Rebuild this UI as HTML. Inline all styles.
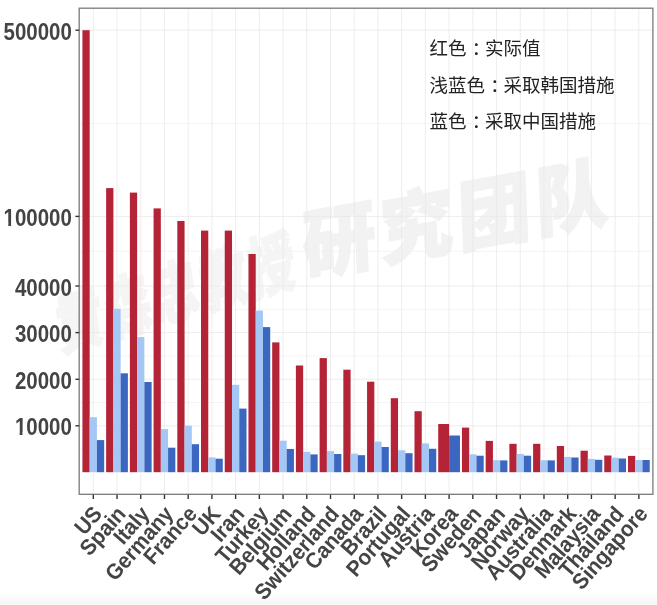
<!DOCTYPE html>
<html lang="zh"><head><meta charset="utf-8"><title>chart</title>
<style>html,body{margin:0;padding:0;background:#fff;}body{width:657px;height:605px;position:relative;overflow:hidden;}</style></head>
<body>
<svg width="657" height="605" viewBox="0 0 657 605" style="position:absolute;left:0;top:0">
<defs><linearGradient id="bg" x1="0" y1="0" x2="0" y2="1"><stop offset="0" stop-color="#ffffff"/><stop offset="1" stop-color="#f6f6f6"/></linearGradient></defs>
<rect x="0" y="0" width="657" height="605" fill="#ffffff"/>
<rect x="0" y="591" width="657" height="14" fill="url(#bg)"/>
<g transform="translate(304.0,277.1) rotate(-10.4) skewX(-8) scale(0.97,1)"><text x="0" y="-2" font-family="'Liberation Sans','Noto Sans CJK SC',sans-serif" font-weight="900" font-size="76" fill="#f2f2f2" stroke="#f2f2f2" stroke-width="2" letter-spacing="5.4">研究团队</text></g>
<g transform="translate(60,351) rotate(-16) skewX(-8) scale(0.72,1)"><text x="0" y="0" font-family="'Liberation Sans','Noto Sans CJK SC',sans-serif" font-weight="900" font-size="66" fill="#f5f5f5" stroke="#f5f5f5" stroke-width="2" letter-spacing="3.4">黄森忠教授</text></g>
<line x1="79.2" x2="652.9" y1="123.6" y2="123.6" stroke="#f1f1f1" stroke-width="0.8"/>
<line x1="79.2" x2="652.9" y1="251.2" y2="251.2" stroke="#f1f1f1" stroke-width="0.8"/>
<line x1="79.2" x2="652.9" y1="309.3" y2="309.3" stroke="#f1f1f1" stroke-width="0.8"/>
<line x1="79.2" x2="652.9" y1="356.0" y2="356.0" stroke="#f1f1f1" stroke-width="0.8"/>
<line x1="79.2" x2="652.9" y1="402.5" y2="402.5" stroke="#f1f1f1" stroke-width="0.8"/>
<line x1="79.2" x2="652.9" y1="449.0" y2="449.0" stroke="#f1f1f1" stroke-width="0.8"/>
<line x1="79.2" x2="652.9" y1="30.2" y2="30.2" stroke="#e8e8e8" stroke-width="0.8"/>
<line x1="79.2" x2="652.9" y1="216.4" y2="216.4" stroke="#e8e8e8" stroke-width="0.8"/>
<line x1="79.2" x2="652.9" y1="286.0" y2="286.0" stroke="#e8e8e8" stroke-width="0.8"/>
<line x1="79.2" x2="652.9" y1="332.6" y2="332.6" stroke="#e8e8e8" stroke-width="0.8"/>
<line x1="79.2" x2="652.9" y1="379.3" y2="379.3" stroke="#e8e8e8" stroke-width="0.8"/>
<line x1="79.2" x2="652.9" y1="425.8" y2="425.8" stroke="#e8e8e8" stroke-width="0.8"/>
<line x1="93.30" x2="93.30" y1="8.2" y2="494.3" stroke="#e8e8e8" stroke-width="0.8"/>
<line x1="117.02" x2="117.02" y1="8.2" y2="494.3" stroke="#e8e8e8" stroke-width="0.8"/>
<line x1="140.74" x2="140.74" y1="8.2" y2="494.3" stroke="#e8e8e8" stroke-width="0.8"/>
<line x1="164.46" x2="164.46" y1="8.2" y2="494.3" stroke="#e8e8e8" stroke-width="0.8"/>
<line x1="188.18" x2="188.18" y1="8.2" y2="494.3" stroke="#e8e8e8" stroke-width="0.8"/>
<line x1="211.90" x2="211.90" y1="8.2" y2="494.3" stroke="#e8e8e8" stroke-width="0.8"/>
<line x1="235.62" x2="235.62" y1="8.2" y2="494.3" stroke="#e8e8e8" stroke-width="0.8"/>
<line x1="259.34" x2="259.34" y1="8.2" y2="494.3" stroke="#e8e8e8" stroke-width="0.8"/>
<line x1="283.06" x2="283.06" y1="8.2" y2="494.3" stroke="#e8e8e8" stroke-width="0.8"/>
<line x1="306.78" x2="306.78" y1="8.2" y2="494.3" stroke="#e8e8e8" stroke-width="0.8"/>
<line x1="330.50" x2="330.50" y1="8.2" y2="494.3" stroke="#e8e8e8" stroke-width="0.8"/>
<line x1="354.22" x2="354.22" y1="8.2" y2="494.3" stroke="#e8e8e8" stroke-width="0.8"/>
<line x1="377.94" x2="377.94" y1="8.2" y2="494.3" stroke="#e8e8e8" stroke-width="0.8"/>
<line x1="401.66" x2="401.66" y1="8.2" y2="494.3" stroke="#e8e8e8" stroke-width="0.8"/>
<line x1="425.38" x2="425.38" y1="8.2" y2="494.3" stroke="#e8e8e8" stroke-width="0.8"/>
<line x1="449.10" x2="449.10" y1="8.2" y2="494.3" stroke="#e8e8e8" stroke-width="0.8"/>
<line x1="472.82" x2="472.82" y1="8.2" y2="494.3" stroke="#e8e8e8" stroke-width="0.8"/>
<line x1="496.54" x2="496.54" y1="8.2" y2="494.3" stroke="#e8e8e8" stroke-width="0.8"/>
<line x1="520.26" x2="520.26" y1="8.2" y2="494.3" stroke="#e8e8e8" stroke-width="0.8"/>
<line x1="543.98" x2="543.98" y1="8.2" y2="494.3" stroke="#e8e8e8" stroke-width="0.8"/>
<line x1="567.70" x2="567.70" y1="8.2" y2="494.3" stroke="#e8e8e8" stroke-width="0.8"/>
<line x1="591.42" x2="591.42" y1="8.2" y2="494.3" stroke="#e8e8e8" stroke-width="0.8"/>
<line x1="615.14" x2="615.14" y1="8.2" y2="494.3" stroke="#e8e8e8" stroke-width="0.8"/>
<line x1="638.86" x2="638.86" y1="8.2" y2="494.3" stroke="#e8e8e8" stroke-width="0.8"/>
<rect x="82.42" y="30.2" width="7.25" height="442.00" fill="#b42336"/>
<rect x="89.67" y="417.2" width="7.25" height="55.00" fill="#a4c7f6"/>
<rect x="96.92" y="440.1" width="7.25" height="32.10" fill="#3b67c0"/>
<rect x="106.14" y="188.1" width="7.25" height="284.10" fill="#b42336"/>
<rect x="113.39" y="308.8" width="7.25" height="163.40" fill="#a4c7f6"/>
<rect x="120.64" y="373.3" width="7.25" height="98.90" fill="#3b67c0"/>
<rect x="129.87" y="192.6" width="7.25" height="279.60" fill="#b42336"/>
<rect x="137.12" y="337.1" width="7.25" height="135.10" fill="#a4c7f6"/>
<rect x="144.37" y="382.0" width="7.25" height="90.20" fill="#3b67c0"/>
<rect x="153.58" y="208.4" width="7.25" height="263.80" fill="#b42336"/>
<rect x="160.83" y="429.1" width="7.25" height="43.10" fill="#a4c7f6"/>
<rect x="168.08" y="447.7" width="7.25" height="24.50" fill="#3b67c0"/>
<rect x="177.31" y="221.0" width="7.25" height="251.20" fill="#b42336"/>
<rect x="184.56" y="425.7" width="7.25" height="46.50" fill="#a4c7f6"/>
<rect x="191.81" y="444.2" width="7.25" height="28.00" fill="#3b67c0"/>
<rect x="201.02" y="230.6" width="7.25" height="241.60" fill="#b42336"/>
<rect x="208.27" y="457.4" width="7.25" height="14.80" fill="#a4c7f6"/>
<rect x="215.52" y="458.7" width="7.25" height="13.50" fill="#3b67c0"/>
<rect x="224.75" y="230.6" width="7.25" height="241.60" fill="#b42336"/>
<rect x="232.00" y="384.8" width="7.25" height="87.40" fill="#a4c7f6"/>
<rect x="239.25" y="408.6" width="7.25" height="63.60" fill="#3b67c0"/>
<rect x="248.46" y="254.0" width="7.25" height="218.20" fill="#b42336"/>
<rect x="255.71" y="310.6" width="7.25" height="161.60" fill="#a4c7f6"/>
<rect x="262.96" y="327.1" width="7.25" height="145.10" fill="#3b67c0"/>
<rect x="272.19" y="342.4" width="7.25" height="129.80" fill="#b42336"/>
<rect x="279.44" y="440.7" width="7.25" height="31.50" fill="#a4c7f6"/>
<rect x="286.69" y="449.0" width="7.25" height="23.20" fill="#3b67c0"/>
<rect x="295.90" y="365.5" width="7.25" height="106.70" fill="#b42336"/>
<rect x="303.15" y="451.9" width="7.25" height="20.30" fill="#a4c7f6"/>
<rect x="310.40" y="454.4" width="7.25" height="17.80" fill="#3b67c0"/>
<rect x="319.62" y="358.1" width="7.25" height="114.10" fill="#b42336"/>
<rect x="326.88" y="451.1" width="7.25" height="21.10" fill="#a4c7f6"/>
<rect x="334.12" y="454.0" width="7.25" height="18.20" fill="#3b67c0"/>
<rect x="343.34" y="369.7" width="7.25" height="102.50" fill="#b42336"/>
<rect x="350.59" y="453.6" width="7.25" height="18.60" fill="#a4c7f6"/>
<rect x="357.84" y="455.2" width="7.25" height="17.00" fill="#3b67c0"/>
<rect x="367.06" y="381.7" width="7.25" height="90.50" fill="#b42336"/>
<rect x="374.31" y="441.6" width="7.25" height="30.60" fill="#a4c7f6"/>
<rect x="381.56" y="447.0" width="7.25" height="25.20" fill="#3b67c0"/>
<rect x="390.79" y="398.2" width="7.25" height="74.00" fill="#b42336"/>
<rect x="398.04" y="450.3" width="7.25" height="21.90" fill="#a4c7f6"/>
<rect x="405.29" y="453.2" width="7.25" height="19.00" fill="#3b67c0"/>
<rect x="414.50" y="411.2" width="7.25" height="61.00" fill="#b42336"/>
<rect x="421.75" y="443.4" width="7.25" height="28.80" fill="#a4c7f6"/>
<rect x="429.00" y="448.8" width="7.25" height="23.40" fill="#3b67c0"/>
<rect x="438.22" y="424.0" width="10.88" height="48.20" fill="#b42336"/>
<rect x="449.10" y="435.5" width="10.88" height="36.70" fill="#3b67c0"/>
<rect x="461.94" y="427.6" width="7.25" height="44.60" fill="#b42336"/>
<rect x="469.19" y="454.3" width="7.25" height="17.90" fill="#a4c7f6"/>
<rect x="476.44" y="455.7" width="7.25" height="16.50" fill="#3b67c0"/>
<rect x="485.67" y="440.9" width="7.25" height="31.30" fill="#b42336"/>
<rect x="492.92" y="460.2" width="7.25" height="12.00" fill="#a4c7f6"/>
<rect x="500.17" y="460.4" width="7.25" height="11.80" fill="#3b67c0"/>
<rect x="509.38" y="443.8" width="7.25" height="28.40" fill="#b42336"/>
<rect x="516.63" y="453.9" width="7.25" height="18.30" fill="#a4c7f6"/>
<rect x="523.88" y="455.7" width="7.25" height="16.50" fill="#3b67c0"/>
<rect x="533.10" y="443.8" width="7.25" height="28.40" fill="#b42336"/>
<rect x="540.35" y="460.2" width="7.25" height="12.00" fill="#a4c7f6"/>
<rect x="547.60" y="460.4" width="7.25" height="11.80" fill="#3b67c0"/>
<rect x="556.82" y="446.0" width="7.25" height="26.20" fill="#b42336"/>
<rect x="564.07" y="456.9" width="7.25" height="15.30" fill="#a4c7f6"/>
<rect x="571.32" y="457.5" width="7.25" height="14.70" fill="#3b67c0"/>
<rect x="580.54" y="450.7" width="7.25" height="21.50" fill="#b42336"/>
<rect x="587.79" y="458.9" width="7.25" height="13.30" fill="#a4c7f6"/>
<rect x="595.04" y="459.8" width="7.25" height="12.40" fill="#3b67c0"/>
<rect x="604.26" y="455.5" width="7.25" height="16.70" fill="#b42336"/>
<rect x="611.51" y="457.7" width="7.25" height="14.50" fill="#a4c7f6"/>
<rect x="618.76" y="458.5" width="7.25" height="13.70" fill="#3b67c0"/>
<rect x="627.98" y="455.9" width="7.25" height="16.30" fill="#b42336"/>
<rect x="635.23" y="460.0" width="7.25" height="12.20" fill="#a4c7f6"/>
<rect x="642.48" y="460.0" width="7.25" height="12.20" fill="#3b67c0"/>
<rect x="79.2" y="8.2" width="573.70" height="486.10" fill="none" stroke="#7a7a7a" stroke-width="1.3"/>
<line x1="75.4" x2="79.2" y1="30.2" y2="30.2" stroke="#333" stroke-width="1.4"/>
<line x1="75.4" x2="79.2" y1="216.4" y2="216.4" stroke="#333" stroke-width="1.4"/>
<line x1="75.4" x2="79.2" y1="286.0" y2="286.0" stroke="#333" stroke-width="1.4"/>
<line x1="75.4" x2="79.2" y1="332.6" y2="332.6" stroke="#333" stroke-width="1.4"/>
<line x1="75.4" x2="79.2" y1="379.3" y2="379.3" stroke="#333" stroke-width="1.4"/>
<line x1="75.4" x2="79.2" y1="425.8" y2="425.8" stroke="#333" stroke-width="1.4"/>
<line x1="93.30" x2="93.30" y1="494.7" y2="499.0" stroke="#333" stroke-width="1.4"/>
<line x1="117.02" x2="117.02" y1="494.7" y2="499.0" stroke="#333" stroke-width="1.4"/>
<line x1="140.74" x2="140.74" y1="494.7" y2="499.0" stroke="#333" stroke-width="1.4"/>
<line x1="164.46" x2="164.46" y1="494.7" y2="499.0" stroke="#333" stroke-width="1.4"/>
<line x1="188.18" x2="188.18" y1="494.7" y2="499.0" stroke="#333" stroke-width="1.4"/>
<line x1="211.90" x2="211.90" y1="494.7" y2="499.0" stroke="#333" stroke-width="1.4"/>
<line x1="235.62" x2="235.62" y1="494.7" y2="499.0" stroke="#333" stroke-width="1.4"/>
<line x1="259.34" x2="259.34" y1="494.7" y2="499.0" stroke="#333" stroke-width="1.4"/>
<line x1="283.06" x2="283.06" y1="494.7" y2="499.0" stroke="#333" stroke-width="1.4"/>
<line x1="306.78" x2="306.78" y1="494.7" y2="499.0" stroke="#333" stroke-width="1.4"/>
<line x1="330.50" x2="330.50" y1="494.7" y2="499.0" stroke="#333" stroke-width="1.4"/>
<line x1="354.22" x2="354.22" y1="494.7" y2="499.0" stroke="#333" stroke-width="1.4"/>
<line x1="377.94" x2="377.94" y1="494.7" y2="499.0" stroke="#333" stroke-width="1.4"/>
<line x1="401.66" x2="401.66" y1="494.7" y2="499.0" stroke="#333" stroke-width="1.4"/>
<line x1="425.38" x2="425.38" y1="494.7" y2="499.0" stroke="#333" stroke-width="1.4"/>
<line x1="449.10" x2="449.10" y1="494.7" y2="499.0" stroke="#333" stroke-width="1.4"/>
<line x1="472.82" x2="472.82" y1="494.7" y2="499.0" stroke="#333" stroke-width="1.4"/>
<line x1="496.54" x2="496.54" y1="494.7" y2="499.0" stroke="#333" stroke-width="1.4"/>
<line x1="520.26" x2="520.26" y1="494.7" y2="499.0" stroke="#333" stroke-width="1.4"/>
<line x1="543.98" x2="543.98" y1="494.7" y2="499.0" stroke="#333" stroke-width="1.4"/>
<line x1="567.70" x2="567.70" y1="494.7" y2="499.0" stroke="#333" stroke-width="1.4"/>
<line x1="591.42" x2="591.42" y1="494.7" y2="499.0" stroke="#333" stroke-width="1.4"/>
<line x1="615.14" x2="615.14" y1="494.7" y2="499.0" stroke="#333" stroke-width="1.4"/>
<line x1="638.86" x2="638.86" y1="494.7" y2="499.0" stroke="#333" stroke-width="1.4"/>
<text transform="translate(71.8,39.8) scale(0.89,1)" text-anchor="end" font-family="'Liberation Sans',sans-serif" font-weight="bold" font-size="23" fill="#444" stroke-linejoin="round">500000</text>
<text transform="translate(71.8,226.0) scale(0.89,1)" text-anchor="end" font-family="'Liberation Sans',sans-serif" font-weight="bold" font-size="23" fill="#444" stroke-linejoin="round">100000</text>
<rect x="4.01" y="222.60" width="4.28" height="4.2" fill="#fff"/>
<rect x="11.10" y="222.60" width="4.2" height="4.2" fill="#fff"/>
<text transform="translate(71.8,295.6) scale(0.89,1)" text-anchor="end" font-family="'Liberation Sans',sans-serif" font-weight="bold" font-size="23" fill="#444" stroke-linejoin="round">40000</text>
<text transform="translate(71.8,342.2) scale(0.89,1)" text-anchor="end" font-family="'Liberation Sans',sans-serif" font-weight="bold" font-size="23" fill="#444" stroke-linejoin="round">30000</text>
<text transform="translate(71.8,388.9) scale(0.89,1)" text-anchor="end" font-family="'Liberation Sans',sans-serif" font-weight="bold" font-size="23" fill="#444" stroke-linejoin="round">20000</text>
<text transform="translate(71.8,435.4) scale(0.89,1)" text-anchor="end" font-family="'Liberation Sans',sans-serif" font-weight="bold" font-size="23" fill="#444" stroke-linejoin="round">10000</text>
<rect x="15.39" y="432.00" width="4.28" height="4.2" fill="#fff"/>
<rect x="22.48" y="432.00" width="4.2" height="4.2" fill="#fff"/>
<text transform="translate(91.40,504.2) rotate(-48.7) scale(0.945,1)" text-anchor="end" y="15.75" font-family="'Liberation Sans',sans-serif" font-weight="bold" font-size="22" fill="#454545">US</text>
<text transform="translate(115.12,504.2) rotate(-48.7) scale(0.945,1)" text-anchor="end" y="15.75" font-family="'Liberation Sans',sans-serif" font-weight="bold" font-size="22" fill="#454545">Spain</text>
<text transform="translate(138.84,504.2) rotate(-48.7) scale(0.945,1)" text-anchor="end" y="15.75" font-family="'Liberation Sans',sans-serif" font-weight="bold" font-size="22" fill="#454545">Italy</text>
<text transform="translate(162.56,504.2) rotate(-48.7) scale(0.945,1)" text-anchor="end" y="15.75" font-family="'Liberation Sans',sans-serif" font-weight="bold" font-size="22" fill="#454545">Germany</text>
<text transform="translate(186.28,504.2) rotate(-48.7) scale(0.945,1)" text-anchor="end" y="15.75" font-family="'Liberation Sans',sans-serif" font-weight="bold" font-size="22" fill="#454545">France</text>
<text transform="translate(210.00,504.2) rotate(-48.7) scale(0.945,1)" text-anchor="end" y="15.75" font-family="'Liberation Sans',sans-serif" font-weight="bold" font-size="22" fill="#454545">UK</text>
<text transform="translate(233.72,504.2) rotate(-48.7) scale(0.945,1)" text-anchor="end" y="15.75" font-family="'Liberation Sans',sans-serif" font-weight="bold" font-size="22" fill="#454545">Iran</text>
<text transform="translate(257.44,504.2) rotate(-48.7) scale(0.945,1)" text-anchor="end" y="15.75" font-family="'Liberation Sans',sans-serif" font-weight="bold" font-size="22" fill="#454545">Turkey</text>
<text transform="translate(281.16,504.2) rotate(-48.7) scale(0.945,1)" text-anchor="end" y="15.75" font-family="'Liberation Sans',sans-serif" font-weight="bold" font-size="22" fill="#454545">Belgium</text>
<text transform="translate(304.88,504.2) rotate(-48.7) scale(0.945,1)" text-anchor="end" y="15.75" font-family="'Liberation Sans',sans-serif" font-weight="bold" font-size="22" fill="#454545">Holland</text>
<text transform="translate(328.60,504.2) rotate(-48.7) scale(0.945,1)" text-anchor="end" y="15.75" font-family="'Liberation Sans',sans-serif" font-weight="bold" font-size="22" fill="#454545">Switzerland</text>
<text transform="translate(352.32,504.2) rotate(-48.7) scale(0.945,1)" text-anchor="end" y="15.75" font-family="'Liberation Sans',sans-serif" font-weight="bold" font-size="22" fill="#454545">Canada</text>
<text transform="translate(376.04,504.2) rotate(-48.7) scale(0.945,1)" text-anchor="end" y="15.75" font-family="'Liberation Sans',sans-serif" font-weight="bold" font-size="22" fill="#454545">Brazil</text>
<text transform="translate(399.76,504.2) rotate(-48.7) scale(0.945,1)" text-anchor="end" y="15.75" font-family="'Liberation Sans',sans-serif" font-weight="bold" font-size="22" fill="#454545">Portugal</text>
<text transform="translate(423.48,504.2) rotate(-48.7) scale(0.945,1)" text-anchor="end" y="15.75" font-family="'Liberation Sans',sans-serif" font-weight="bold" font-size="22" fill="#454545">Austria</text>
<text transform="translate(447.20,504.2) rotate(-48.7) scale(0.945,1)" text-anchor="end" y="15.75" font-family="'Liberation Sans',sans-serif" font-weight="bold" font-size="22" fill="#454545">Korea</text>
<text transform="translate(470.92,504.2) rotate(-48.7) scale(0.945,1)" text-anchor="end" y="15.75" font-family="'Liberation Sans',sans-serif" font-weight="bold" font-size="22" fill="#454545">Sweden</text>
<text transform="translate(494.64,504.2) rotate(-48.7) scale(0.945,1)" text-anchor="end" y="15.75" font-family="'Liberation Sans',sans-serif" font-weight="bold" font-size="22" fill="#454545">Japan</text>
<text transform="translate(518.36,504.2) rotate(-48.7) scale(0.945,1)" text-anchor="end" y="15.75" font-family="'Liberation Sans',sans-serif" font-weight="bold" font-size="22" fill="#454545">Norway</text>
<text transform="translate(542.08,504.2) rotate(-48.7) scale(0.945,1)" text-anchor="end" y="15.75" font-family="'Liberation Sans',sans-serif" font-weight="bold" font-size="22" fill="#454545">Australia</text>
<text transform="translate(565.80,504.2) rotate(-48.7) scale(0.945,1)" text-anchor="end" y="15.75" font-family="'Liberation Sans',sans-serif" font-weight="bold" font-size="22" fill="#454545">Denmark</text>
<text transform="translate(589.52,504.2) rotate(-48.7) scale(0.945,1)" text-anchor="end" y="15.75" font-family="'Liberation Sans',sans-serif" font-weight="bold" font-size="22" fill="#454545">Malaysia</text>
<text transform="translate(613.24,504.2) rotate(-48.7) scale(0.945,1)" text-anchor="end" y="15.75" font-family="'Liberation Sans',sans-serif" font-weight="bold" font-size="22" fill="#454545">Thailand</text>
<text transform="translate(636.96,504.2) rotate(-48.7) scale(0.945,1)" text-anchor="end" y="15.75" font-family="'Liberation Sans',sans-serif" font-weight="bold" font-size="22" fill="#454545">Singapore</text>
<text x="429.5" y="54.9" font-family="'Liberation Sans','Noto Sans CJK SC',sans-serif" font-size="18.5" fill="#222">红色<tspan dx="5.2">：</tspan><tspan dx="-5.2">实际值</tspan></text>
<text x="429.5" y="92.2" font-family="'Liberation Sans','Noto Sans CJK SC',sans-serif" font-size="18.5" fill="#222">浅蓝色<tspan dx="5.2">：</tspan><tspan dx="-5.2">采取韩国措施</tspan></text>
<text x="429.5" y="127.8" font-family="'Liberation Sans','Noto Sans CJK SC',sans-serif" font-size="18.5" fill="#222">蓝色<tspan dx="5.2">：</tspan><tspan dx="-5.2">采取中国措施</tspan></text>
</svg>
</body></html>
